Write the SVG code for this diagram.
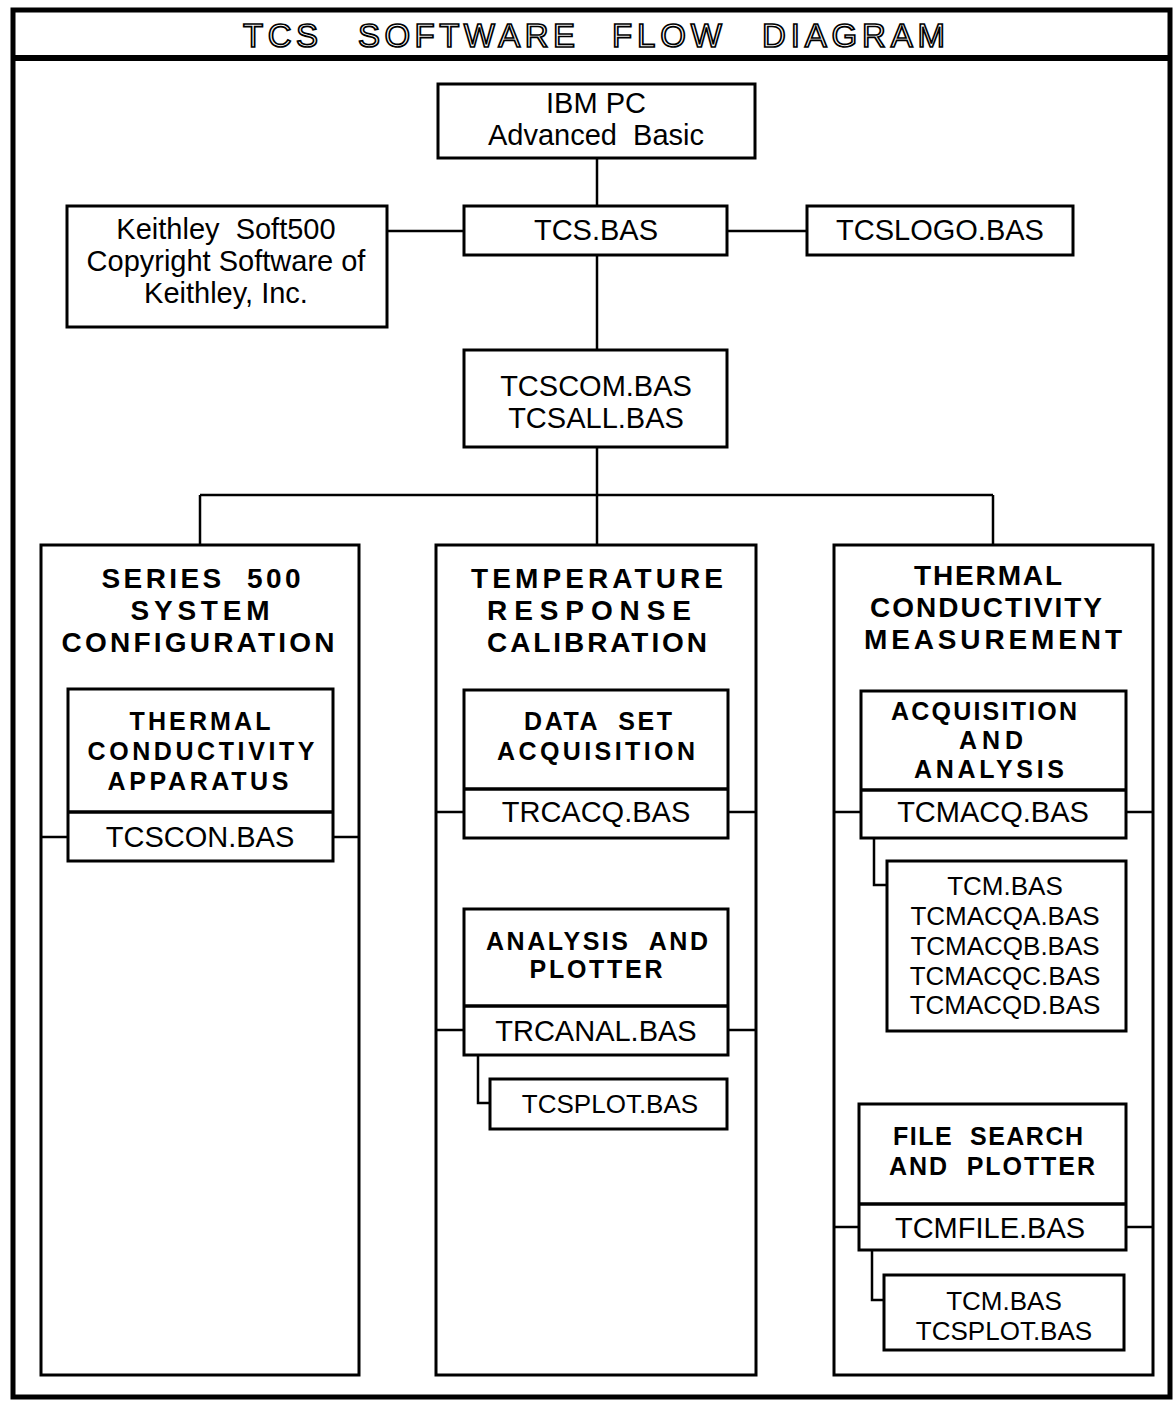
<svg xmlns="http://www.w3.org/2000/svg" width="1175" height="1405" viewBox="0 0 1175 1405">
<style>
.box{fill:#fff;stroke:#000;stroke-width:3}
.ln{fill:none;stroke:#000;stroke-width:2.5}
.t{font-family:"Liberation Sans",Arial,sans-serif;font-size:29px;text-anchor:middle;fill:#000}
.s{font-family:"Liberation Sans",Arial,sans-serif;font-size:26px;text-anchor:middle;fill:#000}
.h{font-family:"Liberation Sans",Arial,sans-serif;font-size:28px;font-weight:bold;text-anchor:middle;fill:#000}
.b{font-family:"Liberation Sans",Arial,sans-serif;font-size:25px;font-weight:bold;text-anchor:middle;fill:#000}
.title{font-family:"Liberation Sans",Arial,sans-serif;font-size:33px;fill:#fff;stroke:#000;stroke-width:1.7}
</style>
<rect width="1175" height="1405" fill="#fff"/>
<g id="frame">
<rect x="13" y="10" width="1157" height="1387" fill="none" stroke="#000" stroke-width="5"/>
<line x1="13" y1="58" x2="1170" y2="58" stroke="#000" stroke-width="6"/>
<text class="title" x="243" y="47" textLength="75" lengthAdjust="spacing">TCS</text>
<text class="title" x="358" y="47" textLength="217" lengthAdjust="spacing">SOFTWARE</text>
<text class="title" x="612" y="47" textLength="110" lengthAdjust="spacing">FLOW</text>
<text class="title" x="762" y="47" textLength="183" lengthAdjust="spacing">DIAGRAM</text>
</g>
<g id="ibmpc">
<rect class="box" x="438" y="84" width="317" height="74"/>
<text class="t" x="596" y="113">IBM PC</text>
<text class="t" x="596" y="145" xml:space="preserve">Advanced  Basic</text>
</g>
<g id="keithley">
<rect class="box" x="67" y="206" width="320" height="121"/>
<text class="t" x="226" y="239" xml:space="preserve">Keithley  Soft500</text>
<text class="t" x="226" y="271">Copyright Software of</text>
<text class="t" x="226" y="303">Keithley, Inc.</text>
</g>
<g id="tcsbas">
<rect class="box" x="464" y="206" width="263" height="49"/>
<text class="t" x="596" y="240">TCS.BAS</text>
</g>
<g id="tcslogo">
<rect class="box" x="807" y="206" width="266" height="49"/>
<text class="t" x="940" y="240">TCSLOGO.BAS</text>
</g>
<g id="tcscom">
<rect class="box" x="464" y="350" width="263" height="97"/>
<text class="t" x="596" y="396">TCSCOM.BAS</text>
<text class="t" x="596" y="428">TCSALL.BAS</text>
</g>
<g id="series500">
<rect class="box" x="41" y="545" width="318" height="830"/>
<text class="h" x="201" y="588" textLength="199" lengthAdjust="spacing" xml:space="preserve">SERIES  500</text>
<text class="h" x="200" y="620" textLength="139" lengthAdjust="spacing">SYSTEM</text>
<text class="h" x="198" y="652" textLength="273" lengthAdjust="spacing">CONFIGURATION</text>
</g>
<g id="apparatus">
<rect class="box" x="68" y="689" width="265" height="172"/>
<line x1="68" y1="812" x2="333" y2="812" stroke="#000" stroke-width="3.5"/>
<text class="b" x="200" y="730" textLength="141" lengthAdjust="spacing">THERMAL</text>
<text class="b" x="201" y="760" textLength="227" lengthAdjust="spacing">CONDUCTIVITY</text>
<text class="b" x="198" y="790" textLength="181" lengthAdjust="spacing">APPARATUS</text>
<text class="t" x="200" y="847">TCSCON.BAS</text>
</g>
<g id="trc">
<rect class="box" x="436" y="545" width="320" height="830"/>
<text class="h" x="597" y="588" textLength="252" lengthAdjust="spacing">TEMPERATURE</text>
<text class="h" x="589" y="620" textLength="204" lengthAdjust="spacing">RESPONSE</text>
<text class="h" x="597" y="652" textLength="220" lengthAdjust="spacing">CALIBRATION</text>
</g>
<g id="dataset">
<rect class="box" x="464" y="690" width="264" height="148"/>
<line x1="464" y1="789" x2="728" y2="789" stroke="#000" stroke-width="3.5"/>
<text class="b" x="598" y="730" textLength="148" lengthAdjust="spacing" xml:space="preserve">DATA  SET</text>
<text class="b" x="596" y="760" textLength="198" lengthAdjust="spacing">ACQUISITION</text>
<text class="t" x="596" y="822">TRCACQ.BAS</text>
</g>
<g id="analysis">
<rect class="box" x="464" y="909" width="264" height="146"/>
<line x1="464" y1="1006" x2="728" y2="1006" stroke="#000" stroke-width="3.5"/>
<text class="b" x="597" y="950" textLength="222" lengthAdjust="spacing" xml:space="preserve">ANALYSIS  AND</text>
<text class="b" x="596" y="978" textLength="133" lengthAdjust="spacing">PLOTTER</text>
<text class="t" x="596" y="1041">TRCANAL.BAS</text>
</g>
<g id="tcsplot1">
<rect class="box" x="490" y="1079" width="237" height="50"/>
<text class="s" x="610" y="1113">TCSPLOT.BAS</text>
</g>
<g id="tcm">
<rect class="box" x="834" y="545" width="319" height="830"/>
<text class="h" x="988" y="585" textLength="148" lengthAdjust="spacing">THERMAL</text>
<text class="h" x="986" y="617" textLength="232" lengthAdjust="spacing">CONDUCTIVITY</text>
<text class="h" x="993" y="649" textLength="258" lengthAdjust="spacing">MEASUREMENT</text>
</g>
<g id="acqanalysis">
<rect class="box" x="861" y="691" width="265" height="147"/>
<line x1="861" y1="790" x2="1126" y2="790" stroke="#000" stroke-width="3.5"/>
<text class="b" x="984" y="720" textLength="186" lengthAdjust="spacing">ACQUISITION</text>
<text class="b" x="991" y="749" textLength="64" lengthAdjust="spacing">AND</text>
<text class="b" x="989" y="778" textLength="150" lengthAdjust="spacing">ANALYSIS</text>
<text class="t" x="993" y="822">TCMACQ.BAS</text>
</g>
<g id="tcmacqfiles">
<rect class="box" x="887" y="861" width="239" height="170"/>
<text class="s" x="1005" y="895">TCM.BAS</text>
<text class="s" x="1005" y="925">TCMACQA.BAS</text>
<text class="s" x="1005" y="955">TCMACQB.BAS</text>
<text class="s" x="1005" y="985">TCMACQC.BAS</text>
<text class="s" x="1005" y="1014">TCMACQD.BAS</text>
</g>
<g id="filesearch">
<rect class="box" x="859" y="1104" width="267" height="146"/>
<line x1="859" y1="1204" x2="1126" y2="1204" stroke="#000" stroke-width="3.5"/>
<text class="b" x="988" y="1145" textLength="190" lengthAdjust="spacing" xml:space="preserve">FILE  SEARCH</text>
<text class="b" x="992" y="1175" textLength="206" lengthAdjust="spacing" xml:space="preserve">AND  PLOTTER</text>
<text class="t" x="990" y="1238">TCMFILE.BAS</text>
</g>
<g id="tcmfiles">
<rect class="box" x="884" y="1275" width="240" height="75"/>
<text class="s" x="1004" y="1310">TCM.BAS</text>
<text class="s" x="1004" y="1340">TCSPLOT.BAS</text>
</g>
<g id="connectors">
<path class="ln" d="M597 159V205"/>
<path class="ln" d="M388 231H463"/>
<path class="ln" d="M728 231H806"/>
<path class="ln" d="M597 256V349"/>
<path class="ln" d="M597 448V544"/>
<path class="ln" d="M200 495H993"/>
<path class="ln" d="M200 495V544"/>
<path class="ln" d="M993 495V544"/>
<path class="ln" d="M42 837H67M334 837H358"/>
<path class="ln" d="M437 812H463M729 812H755"/>
<path class="ln" d="M437 1030H463M729 1030H755"/>
<path class="ln" d="M478 1056V1103H489"/>
<path class="ln" d="M835 812H860M1127 812H1152"/>
<path class="ln" d="M874 839V885H886"/>
<path class="ln" d="M835 1227H858M1127 1227H1152"/>
<path class="ln" d="M872 1251V1300H883"/>
</g>
</svg>
